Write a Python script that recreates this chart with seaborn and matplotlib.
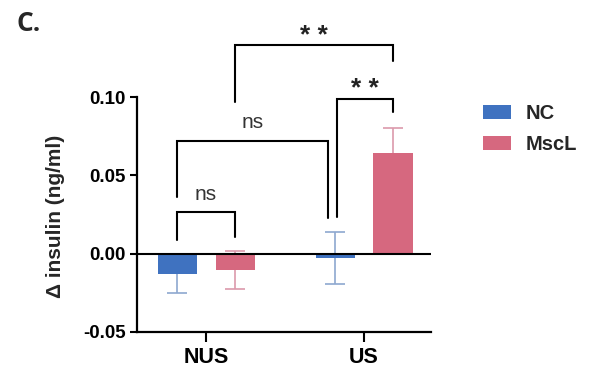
import matplotlib
matplotlib.use("Agg")
import matplotlib.pyplot as plt
import numpy as np
import pandas as pd
import seaborn as sns
from matplotlib.patches import Patch

# ---- data ----
groups = ["NUS", "NUS", "US", "US"]
conditions = ["NC", "MscL", "NC", "MscL"]
means = [-0.013, -0.0105, -0.0028, 0.0643]
sems = [0.0124, 0.0121, 0.0167, 0.016]
group_order = ["NUS", "US"]
hue_order = ["NC", "MscL"]
yticks = [-0.05, 0.0, 0.05, 0.10]
ytick_labels = ["-0.05", "0.00", "0.05", "0.10"]
ylabel = "Δ insulin (ng/ml)"
panel_label = "C."

# significance comparisons: (group_a, cond_a, group_b, cond_b, text)
comparisons = [
    ("NUS", "NC", "NUS", "MscL", "ns"),
    ("NUS", "NC", "US", "NC", "ns"),
    ("US", "NC", "US", "MscL", "**"),
    ("NUS", "MscL", "US", "MscL", "**"),
]
# bracket geometry (data units): top line, left leg end, right leg end, text baseline
bracket_y = [0.0265, 0.0718, 0.0989, 0.1329]
left_leg = [0.0088, 0.0359, 0.0233, 0.097]
right_leg = [0.0104, 0.0226, 0.0902, 0.123]
text_y = [0.034, 0.0799, 0.1005, 0.1345]
left_shift = [0.0, 0.0, 0.015, 0.0]
right_shift = [0.0, -0.045, 0.0, 0.0]

# ---- style ----
bar_colors = ["#3f72c0", "#d6687f"]
err_colors = ["#8ea8d0", "#dc9aab"]
W, H = 589, 376

sns.set_theme(style="ticks")
plt.rcParams["font.family"] = ["Liberation Sans", "DejaVu Sans"]

df = pd.DataFrame({"group": groups, "cond": conditions, "mean": means, "sem": sems})

fig = plt.figure(figsize=(W / 100, H / 100), dpi=100)
ax = fig.add_axes([137 / W, 1 - 332 / H, 294 / W, 235 / H])

sns.barplot(data=df, x="group", y="mean", hue="cond", order=group_order,
            hue_order=hue_order, palette=bar_colors, errorbar=None, saturation=1,
            width=0.734, gap=0.327, linewidth=0, legend=False, ax=ax)

# bar centres from seaborn's patches
pos = {}
for hi, cont in enumerate(ax.containers):
    for gi, p in enumerate(cont.patches):
        pos[(group_order[gi], hue_order[hi])] = p.get_x() + p.get_width() / 2

for _, r in df.iterrows():
    c = err_colors[hue_order.index(r["cond"])]
    ax.errorbar(pos[(r["group"], r["cond"])], r["mean"], yerr=r["sem"], fmt="none",
                ecolor=c, elinewidth=1.2, capsize=7, capthick=1.2, zorder=0.5)

ax.axhline(0, color="black", lw=1.5, zorder=3)

ax.set_xlim(-0.437, 1.424)
ax.set_ylim(-0.05, 0.10)
ax.set_yticks(yticks)
ax.set_yticklabels(ytick_labels)
ax.set_xlabel("")
ax.set_ylabel(ylabel, fontsize=15, fontweight="bold")
ax.yaxis.set_label_coords(-0.245, 0.49)
for s in ["top", "right"]:
    ax.spines[s].set_visible(False)
for s in ["left", "bottom"]:
    ax.spines[s].set_linewidth(1.6)
    ax.spines[s].set_color("black")
ax.tick_params(axis="y", length=5, width=1.5, pad=3, labelsize=13.5, colors="black")
ax.tick_params(axis="x", length=7, width=1.5, pad=4, labelsize=15.5, colors="black")
for t in ax.get_xticklabels() + ax.get_yticklabels():
    t.set_fontweight("bold")

# significance brackets
for i, (ga, ca, gb, cb, txt) in enumerate(comparisons):
    x1 = pos[(ga, ca)] + left_shift[i]
    x2 = pos[(gb, cb)] + right_shift[i]
    y = bracket_y[i]
    ax.plot([x1, x1, x2, x2], [left_leg[i], y, y, right_leg[i]], color="black",
            lw=1.5, clip_on=False, zorder=4, solid_joinstyle="miter")
    if txt == "ns":
        ax.text((x1 + x2) / 2, text_y[i], txt, ha="center", va="baseline",
                fontsize=15, color="#333333", clip_on=False)
    else:
        ax.text((x1 + x2) / 2, text_y[i], "* *", ha="center", va="baseline",
                fontsize=19, fontweight="bold", color="#222222", clip_on=False)

# legend
handles = [Patch(facecolor=c, edgecolor="none") for c in bar_colors]
fig.legend(handles, hue_order, loc="upper left", bbox_to_anchor=(483 / W, 1 - 104 / H),
           frameon=False, borderpad=0, borderaxespad=0, handlelength=1.4,
           handleheight=0.7, handletextpad=0.7, labelspacing=0.62,
           prop={"family": "Liberation Sans", "weight": "bold", "size": 14.5})

fig.text(17 / W, 1 - 31 / H, panel_label, fontsize=19, fontweight="bold",
         family=["Open Sans", "DejaVu Sans"], va="baseline", ha="left")

fig.savefig("out.png", dpi=100)
